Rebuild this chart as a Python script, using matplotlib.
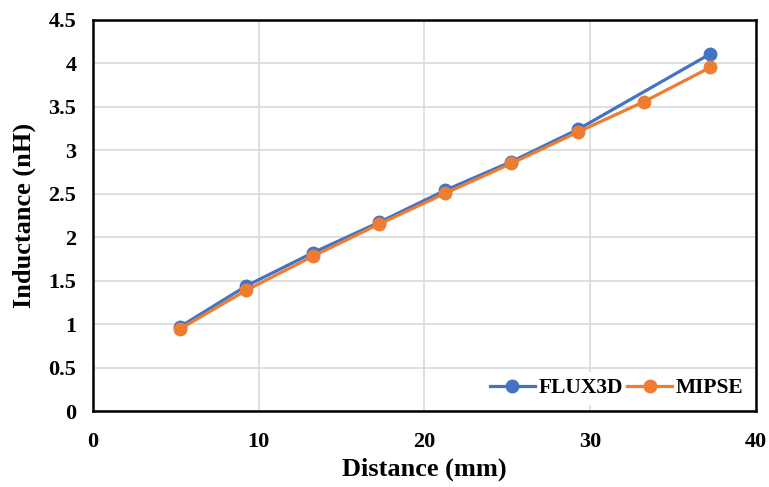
import matplotlib
matplotlib.use("Agg")
import matplotlib.pyplot as plt

# data
x_flux = [5.25, 9.25, 13.25, 17.25, 21.25, 25.25, 29.25, 37.25]
y_flux = [0.97, 1.44, 1.82, 2.17, 2.54, 2.87, 3.24, 4.11]
x_mipse = [5.25, 9.25, 13.25, 17.25, 21.25, 25.25, 29.25, 33.25, 37.25]
y_mipse = [0.945, 1.39, 1.78, 2.15, 2.505, 2.85, 3.21, 3.56, 3.955]

xticks = [0, 10, 20, 30, 40]
yticks = [0, 0.5, 1, 1.5, 2, 2.5, 3, 3.5, 4, 4.5]

plt.rcParams["font.family"] = ["Liberation Serif", "DejaVu Serif"]
plt.rcParams["font.weight"] = "bold"

fig = plt.figure(figsize=(7.69, 4.87), dpi=100)
ax = fig.add_axes([0.121, 0.156, 0.862, 0.803])

ax.plot(x_flux, y_flux, color="#4472C4", lw=2.3, marker="o", ms=9, label="FLUX3D", zorder=3)
ax.plot(x_mipse, y_mipse, color="#ED7D31", lw=2.3, marker="o", ms=9, label="MIPSE", zorder=4)

ax.set_xlim(0, 40)
ax.set_ylim(0, 4.5)
ax.set_xticks(xticks)
ax.set_yticks(yticks)
ax.set_xticklabels([str(t) for t in xticks])
ax.set_yticklabels([f"{t:g}" for t in yticks])
ax.tick_params(length=0, labelsize=16)
ax.tick_params(axis="x", pad=15)
ax.tick_params(axis="y", pad=12)
for lbl in ax.get_xticklabels() + ax.get_yticklabels():
    lbl.set_fontweight("bold")

ax.grid(True, color="#d9d9d9", lw=1.2)
ax.set_axisbelow(True)
for s in ax.spines.values():
    s.set_linewidth(1.8)
    s.set_color("black")

ax.set_xlabel("Distance (mm)", fontsize=19, fontweight="bold")
ax.set_ylabel("Inductance (nH)", fontsize=19, fontweight="bold")
ax.xaxis.set_label_coords(0.5, -0.118)
ax.yaxis.set_label_coords(-0.086, 0.5)

leg = ax.legend(loc="lower right", ncol=2, frameon=True, fontsize=15.5,
                handlelength=2.1, columnspacing=0.2, handletextpad=0.15,
                borderaxespad=0.3, borderpad=0.3)
leg.get_frame().set_edgecolor("none")
leg.get_frame().set_facecolor("white")
leg.get_frame().set_alpha(1)
for t in leg.get_texts():
    t.set_fontweight("bold")

fig.savefig("out.png", dpi=100)
